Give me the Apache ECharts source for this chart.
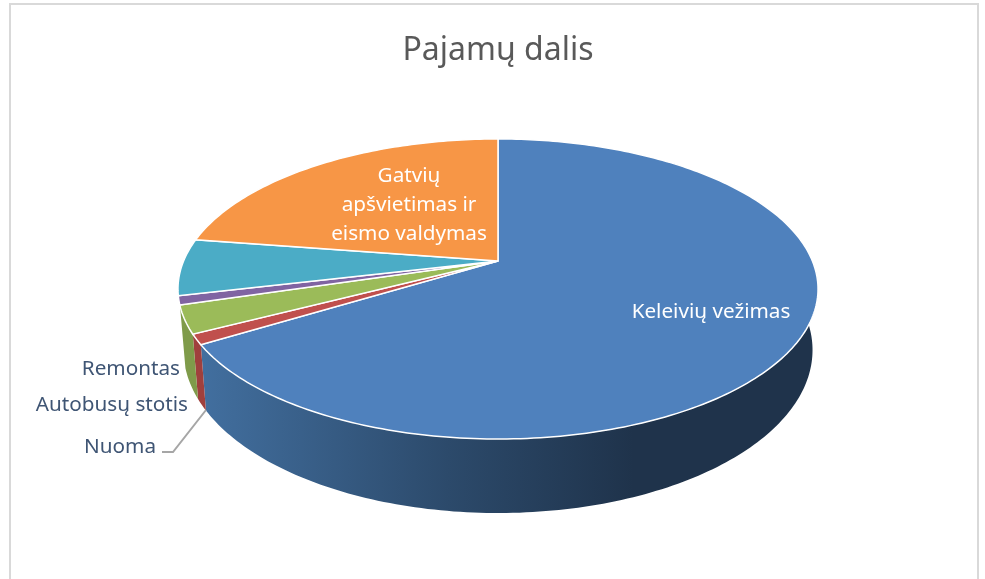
<!DOCTYPE html>
<html>
<head>
<meta charset="utf-8">
<style>
html, body { margin: 0; padding: 0; background: #fff; overflow: hidden; }
#my_chart { width: 985px; height: 579px; }
</style>
</head>
<body>
<div id="my_chart"></div>
<script src="https://cdn.jsdelivr.net/npm/echarts@6/dist/echarts.min.js"></script>
<script>
// slices clockwise from 12 o'clock, share in percent (the teal one has no label in the picture)
var categories = ['Keleivių vežimas', 'Nuoma', 'Autobusų stotis', 'Remontas', '', 'Gatvių\napšvietimas ir\neismo valdymas'];
var shares = [66.3, 1.1, 3.0, 0.95, 6.1, 22.6];

var topColors = ['#4f81bd', '#c0504d', '#9bbb59', '#8064a2', '#4bacc6', '#f79646'];
var wallColors = ['#3f6a9a', '#a0403d', '#7f9b4a', '#6a5387', '#3c8ba1', '#cd7b38'];
var labelXY = [[711, 312], [156, 447], [188, 405], [180, 369], null, [409, 205]];
var labelInside = [true, false, false, false, false, true];

var total = shares.reduce(function (a, b) { return a + b; }, 0);

// perspective of the disc: top face and bottom face of the cylinder
var topFace = { cx: 498, cy: 261, k: 314.4, m: 144.8, p: 0.1867 };
var bottomFace = { cx: 498, cy: 319.6, k: 309, m: 157.3, p: 0.1867 };

function project(face, deg) {
    var a = deg * Math.PI / 180;
    var X = Math.sin(a), Y = -Math.cos(a);
    var w = 1 - face.p * Y;
    return [face.cx + face.k * X / w, face.cy + face.m * Y / w];
}

function arcPoints(face, from, to) {
    var pts = [];
    var n = Math.max(2, Math.ceil(Math.abs(to - from)));
    for (var i = 0; i <= n; i++) {
        pts.push(project(face, from + (to - from) * i / n));
    }
    return pts;
}

function sliceRange(i) {
    var start = 0;
    for (var j = 0; j < i; j++) start += shares[j];
    return [start / total * 360, (start + shares[i]) / total * 360];
}

function renderWall(params, api) {
    var i = api.value(0);
    var r = sliceRange(i);
    // only the front of the side wall can be seen, it ends on the left in the green slice
    var from = Math.max(r[0], 90), to = Math.min(r[1], 253);
    if (to <= from) return null;
    var pts = arcPoints(topFace, from, to).concat(arcPoints(bottomFace, from, to).reverse());
    var fill = wallColors[i];
    if (i === 0) {
        fill = new echarts.graphic.LinearGradient(1, 0, 0, 0, [
            { offset: 0, color: '#1f334b' },
            { offset: 0.3, color: '#1f334b' },
            { offset: 0.6, color: '#2c4a6b' },
            { offset: 1, color: '#426f9f' }
        ]);
    }
    return { type: 'polygon', shape: { points: pts }, style: { fill: fill } };
}

function renderTop(params, api) {
    var i = api.value(0);
    var r = sliceRange(i);
    var pts = [[topFace.cx, topFace.cy]].concat(arcPoints(topFace, r[0], r[1]));
    return { type: 'polygon', shape: { points: pts }, style: { fill: topColors[i], stroke: '#fff', lineWidth: 1.5 } };
}

function renderLabel(params, api) {
    var i = api.value(0);
    if (!labelXY[i]) return null;
    return {
        type: 'text',
        x: labelXY[i][0],
        y: labelXY[i][1],
        style: {
            text: categories[i],
            fill: labelInside[i] ? '#fff' : '#3f5574',
            font: '20.7px "Noto Sans"',
            lineHeight: 29,
            align: labelInside[i] ? 'center' : 'right',
            verticalAlign: 'middle'
        }
    };
}

var rows = shares.map(function (v, i) { return [i, v]; });

var myChart = echarts.init(document.getElementById('my_chart'));
var option = {
    animation: false,
    backgroundColor: '#fff',
    title: {
        text: 'Pajamų dalis',
        left: 493,
        top: 30,
        textAlign: 'center',
        textStyle: { color: '#595959', fontSize: 32, fontWeight: 'normal', fontFamily: 'Noto Sans' }
    },
    graphic: [
        // chart frame, cut off by the bottom of the picture
        { type: 'polyline', silent: true, shape: { points: [[10, 579], [10, 4], [978, 4], [978, 579]] }, style: { fill: null, stroke: '#d9d9d9', lineWidth: 2 } },
        // leader line of Nuoma
        { type: 'polyline', silent: true, z: 10, shape: { points: [[162, 452], [173, 452], [206, 410]] }, style: { fill: null, stroke: '#a6a6a6', lineWidth: 2 } }
    ],
    series: [
        { type: 'custom', coordinateSystem: 'none', renderItem: renderWall, data: rows, silent: true, z: 2 },
        { type: 'custom', coordinateSystem: 'none', renderItem: renderTop, data: rows, silent: true, z: 3 },
        { type: 'custom', coordinateSystem: 'none', renderItem: renderLabel, data: rows, silent: true, z: 4 }
    ]
};
myChart.setOption(option);
</script>
</body>
</html>
